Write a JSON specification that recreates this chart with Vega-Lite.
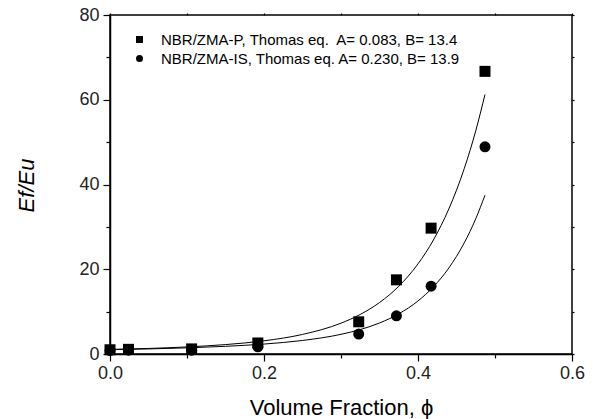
{
  "$schema": "https://vega.github.io/schema/vega-lite/v6.json",
  "width": 462,
  "height": 339,
  "autosize": "none",
  "padding": {"left": 110, "top": 15, "right": 23, "bottom": 65},
  "background": "white",
  "config": {
    "font": "Liberation Sans",
    "view": {"stroke": "black", "strokeWidth": 1.5},
    "axis": {
      "grid": false,
      "domainColor": "black",
      "domainWidth": 1.5,
      "tickColor": "black",
      "tickWidth": 1.2,
      "labelColor": "#222",
      "labelFont": "Liberation Sans",
      "labelFontSize": 18,
      "titleFont": "Liberation Sans",
      "titleFontSize": 22,
      "titleFontWeight": "normal",
      "titleColor": "black"
    }
  },
  "datasets": {
    "pts": [
      {"phi": 0.0, "val": 1.0, "sample": "NBR/ZMA-P"},
      {"phi": 0.024, "val": 1.1, "sample": "NBR/ZMA-P"},
      {"phi": 0.106, "val": 1.2, "sample": "NBR/ZMA-P"},
      {"phi": 0.192, "val": 2.6, "sample": "NBR/ZMA-P"},
      {"phi": 0.323, "val": 7.6, "sample": "NBR/ZMA-P"},
      {"phi": 0.372, "val": 17.5, "sample": "NBR/ZMA-P"},
      {"phi": 0.417, "val": 29.7, "sample": "NBR/ZMA-P"},
      {"phi": 0.487, "val": 66.7, "sample": "NBR/ZMA-P"},
      {"phi": 0.0, "val": 0.8, "sample": "NBR/ZMA-IS"},
      {"phi": 0.024, "val": 0.9, "sample": "NBR/ZMA-IS"},
      {"phi": 0.106, "val": 0.9, "sample": "NBR/ZMA-IS"},
      {"phi": 0.192, "val": 1.7, "sample": "NBR/ZMA-IS"},
      {"phi": 0.323, "val": 4.7, "sample": "NBR/ZMA-IS"},
      {"phi": 0.372, "val": 9.0, "sample": "NBR/ZMA-IS"},
      {"phi": 0.417, "val": 16.0, "sample": "NBR/ZMA-IS"},
      {"phi": 0.487, "val": 48.9, "sample": "NBR/ZMA-IS"}
    ],
    "curves": [
      {"phi": 0.0, "val": 1.083, "fit": "P"},
      {"phi": 0.05, "val": 1.312, "fit": "P"},
      {"phi": 0.1, "val": 1.668, "fit": "P"},
      {"phi": 0.15, "val": 2.22, "fit": "P"},
      {"phi": 0.2, "val": 3.113, "fit": "P"},
      {"phi": 0.25, "val": 4.619, "fit": "P"},
      {"phi": 0.3, "val": 7.278, "fit": "P"},
      {"phi": 0.325, "val": 9.336, "fit": "P"},
      {"phi": 0.35, "val": 12.14, "fit": "P"},
      {"phi": 0.375, "val": 15.98, "fit": "P"},
      {"phi": 0.4, "val": 21.27, "fit": "P"},
      {"phi": 0.42, "val": 26.9, "fit": "P"},
      {"phi": 0.44, "val": 34.22, "fit": "P"},
      {"phi": 0.46, "val": 43.72, "fit": "P"},
      {"phi": 0.475, "val": 52.68, "fit": "P"},
      {"phi": 0.487, "val": 61.24, "fit": "P"},
      {"phi": 0.0, "val": 1.022, "fit": "IS"},
      {"phi": 0.05, "val": 1.197, "fit": "IS"},
      {"phi": 0.1, "val": 1.45, "fit": "IS"},
      {"phi": 0.15, "val": 1.811, "fit": "IS"},
      {"phi": 0.2, "val": 2.346, "fit": "IS"},
      {"phi": 0.25, "val": 3.193, "fit": "IS"},
      {"phi": 0.3, "val": 4.644, "fit": "IS"},
      {"phi": 0.325, "val": 5.769, "fit": "IS"},
      {"phi": 0.35, "val": 7.318, "fit": "IS"},
      {"phi": 0.375, "val": 9.479, "fit": "IS"},
      {"phi": 0.4, "val": 12.52, "fit": "IS"},
      {"phi": 0.42, "val": 15.86, "fit": "IS"},
      {"phi": 0.44, "val": 20.29, "fit": "IS"},
      {"phi": 0.46, "val": 26.21, "fit": "IS"},
      {"phi": 0.475, "val": 31.92, "fit": "IS"},
      {"phi": 0.487, "val": 37.48, "fit": "IS"}
    ]
  },
  "layer": [
    {
      "data": {"name": "curves"},
      "mark": {"type": "line", "color": "black", "strokeWidth": 1, "interpolate": "monotone"},
      "encoding": {
        "x": {
          "field": "phi", "type": "quantitative",
          "scale": {"domain": [0, 0.6], "nice": false, "zero": false},
          "axis": {
            "orient": "bottom",
            "values": [0, 0.1, 0.2, 0.3, 0.4, 0.5, 0.6],
            "labelExpr": "round(datum.value*10) % 2 == 0 ? format(datum.value, '.1f') : ''",
            "tickSize": {"condition": {"test": "round(datum.value*10) % 2 == 1", "value": 4}, "value": 7},
            "labelPadding": 3,
            "labelFlush": false,
            "title": "Volume Fraction, ϕ",
            "titleX": 231,
            "titleY": 60,
            "titleBaseline": "alphabetic"
          }
        },
        "y": {
          "field": "val", "type": "quantitative",
          "scale": {"domain": [0, 80], "nice": false},
          "axis": {
            "orient": "left",
            "values": [0, 10, 20, 30, 40, 50, 60, 70, 80],
            "labelExpr": "round(datum.value/10) % 2 == 0 ? format(datum.value, 'd') : ''",
            "tickSize": {"condition": {"test": "round(datum.value/10) % 2 == 1", "value": 4}, "value": 7},
            "labelPadding": 4,
            "labelFlush": false,
            "title": "Ef/Eu",
            "titleFontStyle": "italic",
            "titleAngle": -90,
            "titleX": -77,
            "titleY": 170,
            "titleBaseline": "alphabetic"
          }
        },
        "detail": {"field": "fit", "type": "nominal"}
      }
    },
    {
      "data": {"name": "pts"},
      "mark": {"type": "point", "filled": true, "opacity": 1, "color": "black", "size": 121},
      "encoding": {
        "x": {
          "field": "phi", "type": "quantitative",
          "axis": {
            "orient": "top",
            "values": [0, 0.1, 0.2, 0.3, 0.4, 0.5, 0.6],
            "labels": false, "domain": false, "tickSize": 2, "title": null
          }
        },
        "y": {
          "field": "val", "type": "quantitative",
          "axis": {
            "orient": "right",
            "values": [0, 10, 20, 30, 40, 50, 60, 70, 80],
            "labels": false, "domain": false, "tickSize": 2, "title": null
          }
        },
        "shape": {
          "field": "sample", "type": "nominal",
          "scale": {"domain": ["NBR/ZMA-P", "NBR/ZMA-IS"], "range": ["square", "circle"]},
          "legend": {
            "orient": "none",
            "legendX": 22,
            "legendY": 17,
            "padding": 0,
            "title": null,
            "symbolSize": 49,
            "symbolFillColor": "black",
            "symbolStrokeWidth": 0,
            "labelFontSize": 15,
            "labelFont": "Liberation Sans",
            "labelColor": "black",
            "labelOffset": 14,
            "rowPadding": 3,
            "labelLimit": 400,
            "labelExpr": "datum.value == 'NBR/ZMA-P' ? 'NBR/ZMA-P, Thomas eq.\u00a0 A= 0.083, B= 13.4' : 'NBR/ZMA-IS, Thomas eq. A= 0.230, B= 13.9'"
          }
        }
      }
    }
  ],
  "resolve": {
    "scale": {"x": "shared", "y": "shared"},
    "axis": {"x": "independent", "y": "independent"}
  }
}
